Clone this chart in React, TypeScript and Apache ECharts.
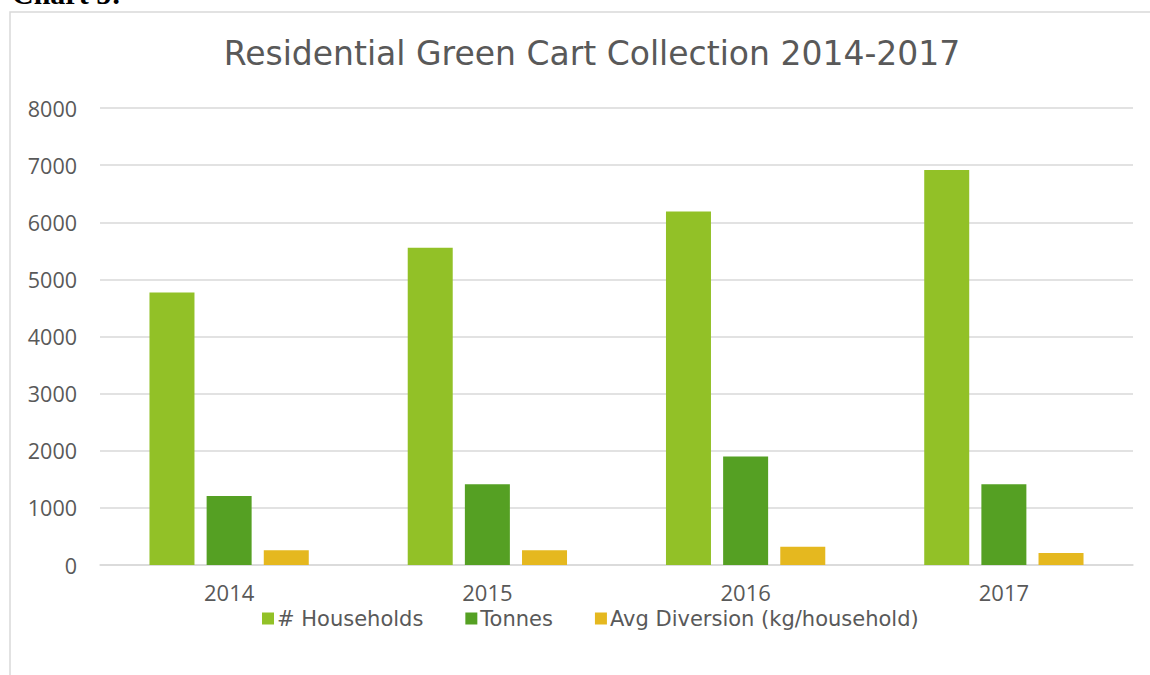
import React, { useEffect, useRef } from "react";
import * as echarts from "echarts";

const years = ["2014", "2015", "2016", "2017"];
const households = [4770, 5555, 6190, 6915];
const tonnes = [1210, 1415, 1900, 1415];
const avgDiversion = [260, 260, 320, 210];
const seriesNames = ["# Households", "Tonnes", "Avg Diversion (kg/household)"];
const colors = ["#92C127", "#55A023", "#E5B81F"];

export default function App() {
  const ref = useRef<HTMLDivElement>(null);
  useEffect(() => {
    if (!ref.current) return;
    const chart = echarts.init(ref.current, null, { renderer: "svg" });
    const sansTitle = "'DejaVu Sans', sans-serif";
    const sansAxis = "'Open Sans', 'Noto Sans', sans-serif";
    chart.setOption({
      animation: false,
      backgroundColor: "#ffffff",
      title: {
        text: "Residential Green Cart Collection 2014-2017",
        left: 587,
        top: 32,
        textAlign: "center",
        textStyle: {
          fontFamily: sansTitle,
          fontSize: 33,
          fontWeight: "normal",
          color: "#595959",
        },
      },
      graphic: [
        {
          type: "rect",
          shape: { x: 10, y: 12, width: 1300, height: 800 },
          style: { fill: "none", stroke: "#d9d9d9", lineWidth: 1.5 },
          silent: true,
        },
        {
          type: "text",
          left: 12,
          top: -22,
          style: {
            text: "Chart 5:",
            fontFamily: "'Liberation Serif', 'Times New Roman', serif",
            fontWeight: "bold",
            fontSize: 30,
            fill: "#000000",
          },
        },
      ],
      legend: {
        data: seriesNames,
        left: 257,
        top: 603,
        itemWidth: 12,
        itemHeight: 12,
        itemGap: 42,
        icon: "rect",
        textStyle: {
          fontFamily: sansTitle,
          fontSize: 21,
          color: "#595959",
          padding: [0, 0, 0, -2],
        },
      },
      grid: { left: 100, right: 17, top: 108, bottom: 110, containLabel: false },
      xAxis: {
        type: "category",
        data: years,
        axisLine: { lineStyle: { color: "#d9d9d9", width: 1.5 } },
        axisTick: { show: false },
        axisLabel: {
          fontFamily: sansAxis,
          fontSize: 22,
          color: "#595959",
          margin: 16,
        },
      },
      yAxis: {
        type: "value",
        min: 0,
        max: 8000,
        interval: 1000,
        axisLine: { show: false },
        axisTick: { show: false },
        splitLine: { lineStyle: { color: "#d9d9d9", width: 1.5 } },
        axisLabel: {
          fontFamily: sansAxis,
          fontSize: 21.5,
          color: "#595959",
          margin: 23,
          formatter: (v: number) => String(v),
        },
      },
      series: [
        { name: seriesNames[0], type: "bar", data: households, barWidth: 45, barGap: "27%", itemStyle: { color: colors[0] } },
        { name: seriesNames[1], type: "bar", data: tonnes, barWidth: 45, barGap: "27%", itemStyle: { color: colors[1] } },
        { name: seriesNames[2], type: "bar", data: avgDiversion, barWidth: 45, barGap: "27%", itemStyle: { color: colors[2] } },
      ],
    });
    return () => chart.dispose();
  }, []);
  return (
    <div
      ref={ref}
      style={{ position: "fixed", left: 0, top: 0, width: 1150, height: 675 }}
    />
  );
}
